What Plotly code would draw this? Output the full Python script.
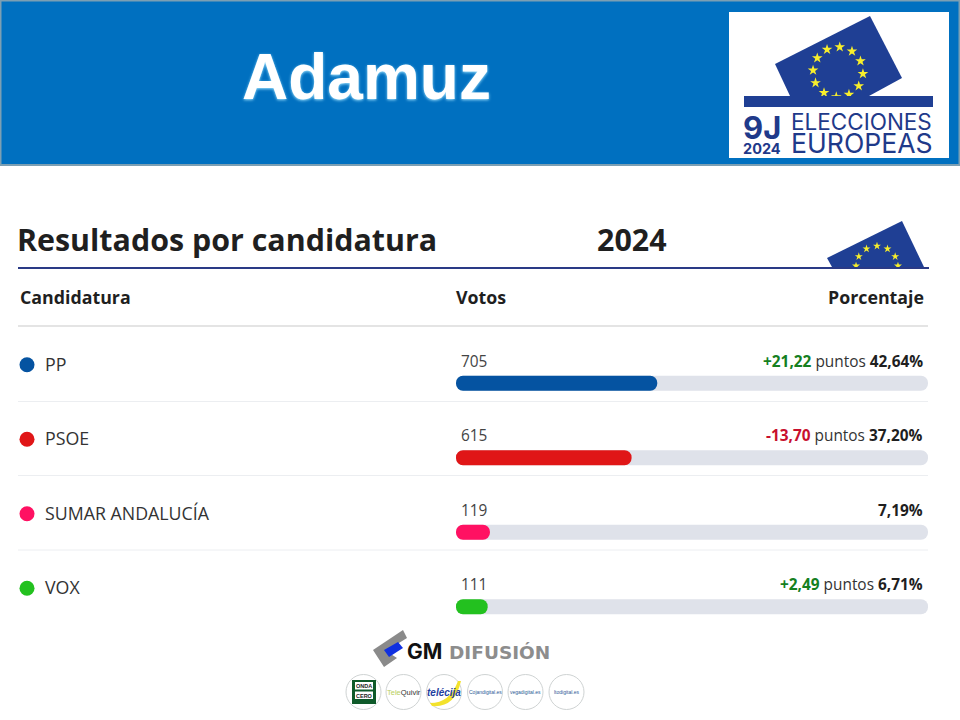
import math
import plotly.graph_objects as go

# results table
parties = ['PP', 'PSOE', 'SUMAR ANDALUCÍA', 'VOX']
votes = [705, 615, 119, 111]
percents = [42.64, 37.20, 7.19, 6.71]
changes = ['+21,22', '-13,70', None, '+2,49']
percent_labels = ['42,64%', '37,20%', '7,19%', '6,71%']
party_colors = ['#0553a1', '#e01617', '#ff1162', '#23c11f']
full_scale = [100, 100, 100, 100]
bar_base = [0, 0, 0, 0]

TRACK = '#dfe2ea'
DARK = '#1f1f1f'
NAVY = '#1f3a8a'
SANS = 'Open Sans'
W, H = 960, 720


def px(x):
    return x / W


def py(y):
    return 1 - y / H


def poly(points, color, layer='above'):
    # closed polygon in page pixels, on the x2/y3 page axes
    path = 'M ' + ' L '.join(f'{x},{y}' for x, y in points) + ' Z'
    return dict(type='path', path=path, xref='x2', yref='y3', fillcolor=color,
                line=dict(width=0), layer=layer)


def rect(x0, y0, x1, y1, color, line=None, layer='below'):
    return dict(type='rect', x0=x0, y0=y0, x1=x1, y1=y1, xref='x2', yref='y3',
                fillcolor=color, line=line or dict(width=0), layer=layer)


def hline(x0, x1, y, color, width, layer='below'):
    return dict(type='line', x0=x0, x1=x1, y0=y, y1=y, xref='x2', yref='y3',
                line=dict(color=color, width=width), layer=layer)


def label(x, y, text, size, color=DARK, anchor='left', family=SANS, **kw):
    return dict(x=px(x), y=py(y), xref='paper', yref='paper', text=text, showarrow=False,
                xanchor=anchor, yanchor='middle', borderpad=0, borderwidth=0, **kw,
                font=dict(family=family, size=size, color=color))


fig = go.Figure()

# grey tracks, then the share of each party on top
# an explicit base makes plotly round both ends of the bar
fig.add_trace(go.Bar(y=parties, x=full_scale, base=bar_base, orientation='h', width=0.2,
                     marker=dict(color=TRACK, line=dict(width=0)), hoverinfo='skip'))
fig.add_trace(go.Bar(y=parties, x=percents, base=bar_base, orientation='h', width=0.2,
                     marker=dict(color=party_colors, line=dict(width=0))))

# party dots sit a little above the bar line, so they get their own y axis
fig.add_trace(go.Scatter(x=[27] * len(parties), y=parties, mode='markers', xaxis='x2', yaxis='y2',
                         marker=dict(size=15, color=party_colors)))

# logo stars, big and small
stars_big = [(838 + 25 * math.cos(math.radians(a)), 72 - 25 * math.sin(math.radians(a)))
             for a in range(-4, 356, 30)]
stars_small = [(877 + 21 * math.cos(math.radians(a)), 267 - 21 * math.sin(math.radians(a)))
               for a in (3, 30, 60, 90, 120, 150, 177)]
for pts, size in ((stars_big, 8), (stars_small, 6)):
    fig.add_trace(go.Scatter(x=[p[0] for p in pts], y=[p[1] for p in pts], mode='markers',
                             xaxis='x2', yaxis='y3', hoverinfo='skip',
                             marker=dict(symbol='star', size=size, color='#f7ee2c', line=dict(width=0))))

shapes = [
    # header band and logo box
    rect(0.5, 0.5, 959.5, 165, '#0070c0', line=dict(color='#7c9fb3', width=2)),
    rect(729, 12, 949, 158, '#ffffff'),
    poly([(775, 64), (870, 16), (902, 78), (869, 96), (790, 96)], '#1f3f94', layer='below'),
    rect(744, 96, 933, 107, '#1f3f94', layer='above'),
    # table lines
    poly([(827, 258), (902, 221), (924, 267), (832, 267)], '#1f3f94', layer='below'),
    rect(850, 269, 905, 278, '#ffffff', layer='above'),
    hline(18, 929, 268, '#2a3a86', 2, layer='above'),
    hline(18, 928, 326, '#e4e4e4', 2),
    hline(18, 928, 401.5, '#eceef1', 1),
    hline(18, 928, 475.5, '#eceef1', 1),
    hline(18, 928, 550, '#eceef1', 1),
    # GM Difusion mark
    poly([(373, 650), (403, 630), (407, 638), (386, 651), (397, 658), (384, 667)], '#8a8a8a'),
    poly([(384, 650), (398, 642), (403, 648), (389, 657)], '#1030e0'),
]

# footer media badges
badge_x = [363.5, 403.5, 444, 485, 525.5, 566.5]
for x in badge_x:
    shapes.append(dict(type='circle', x0=x - 17.5, x1=x + 17.5, y0=674.5, y1=709.5, xref='x2', yref='y3',
                       fillcolor='#ffffff', line=dict(color='#cfd3d3', width=1), layer='below'))
shapes.append(rect(352, 680, 376, 704, '#0f5a2a', layer='below'))
shapes.append(rect(355, 682, 373, 689.5, '#ffffff', layer='below'))
shapes.append(rect(355, 691.5, 373, 699, '#ffffff', layer='below'))
shapes.append(dict(type='path', path='M 430,703 Q 450,703 458,681 L 461,681 Q 455,708 432,706 Z',
                   xref='x2', yref='y3', fillcolor='#f3e22c', line=dict(width=0), layer='below'))

annotations = [
    label(366.5, 77, '<b>Adamuz</b>', 64, '#ffffff', 'center', 'Liberation Sans'),
    label(16.5, 240, '<b>Resultados por candidatura</b>', 30.4),
    label(597, 240, '<b>2024</b>', 30.4),
    label(20, 297, '<b>Candidatura</b>', 17.8),
    label(456, 297, '<b>Votos</b>', 17.8),
    label(924, 297, '<b>Porcentaje</b>', 17.8, anchor='right'),
    # logo wording, one block per column so the lines keep their spacing
    label(743, 133, '<span style="font-size:31px"><b>9J</b></span><br><span style="font-size:14.5px"><b>2024</b></span>',
          11.5, NAVY, family='Inter', align='left'),
    label(791, 133, '<span style="font-size:22.5px">ELECCIONES</span><br><span style="font-size:26.6px">EUROPEAS</span>',
          18, NAVY, family='Inter', align='left'),
    # footer
    label(407, 651, '<b>GM</b>', 21, '#111111', family='Inter'),
    label(449, 652, '<b>DIFUSIÓN</b>', 18.5, '#8d8d8d', family='DejaVu Sans'),
    label(364, 686, '<b>ONDA</b>', 5.5, '#222222', 'center', 'Liberation Sans'),
    label(364, 695.5, '<b>CERO</b>', 5.5, '#222222', 'center', 'Liberation Sans'),
    label(403.5, 692, 'Tele<span style="color:#333">Quivir</span>', 7.5, '#b9cf5e', 'center', 'Liberation Sans'),
    label(444, 692, '<b><i>telécija</i></b>', 10, '#1f3fa0', 'center', 'Liberation Sans'),
    label(485, 692, 'Cojandigital.es', 5, '#2c5a96', 'center', 'Liberation Sans'),
    label(525.5, 692, 'vegadigital.es', 5, '#2c5a96', 'center', 'Liberation Sans'),
    label(566.5, 692, 'ltodigital.es', 5, '#2c5a96', 'center', 'Liberation Sans'),
]
annotations[0]['font']['shadow'] = '0 1px 3px #9fe3ff'

# row texts read from the data lists
for party, vote, pct, change in zip(parties, votes, percent_labels, changes):
    annotations.append(dict(x=px(45), xref='paper', y=party, yref='y2', text=party, showarrow=False,
                            xanchor='left', yshift=1, borderpad=0, borderwidth=0,
                            font=dict(family=SANS, size=17.8, color='#333333')))
    annotations.append(dict(x=0, xref='x', y=party, yref='y', text=str(vote), showarrow=False,
                            xanchor='left', xshift=5, yshift=22, borderpad=0, borderwidth=0,
                            font=dict(family=SANS, size=15.4, color='#444444')))
    text = f'<b>{pct}</b>'
    if change:
        col = '#15801f' if change.startswith('+') else '#c8102e'
        text = f'<b><span style="color:{col}">{change}</span></b> <span style="color:#333333">puntos</span> ' + text
    annotations.append(dict(x=100, xref='x', y=party, yref='y', text=text, showarrow=False,
                            xanchor='right', xshift=-5, yshift=22, borderpad=0, borderwidth=0,
                            font=dict(family=SANS, size=15.4, color=DARK)))

fig.update_layout(
    width=W,
    height=H,
    margin=dict(l=0, r=0, t=0, b=0),
    paper_bgcolor='#ffffff',
    plot_bgcolor='rgba(0,0,0,0)',
    showlegend=False,
    barmode='overlay',
    barcornerradius=8,
    shapes=shapes,
    annotations=annotations,
    xaxis=dict(domain=[px(456), px(928)], range=[0, 100], visible=False, fixedrange=True),
    # four rows, 74.5 px apart, bars centred at y=383
    yaxis=dict(domain=[py(644), py(346)], categoryorder='array', categoryarray=parties,
               range=[3.5, -0.5], visible=False, fixedrange=True),
    yaxis2=dict(domain=[py(625.5), py(327.5)], categoryorder='array', categoryarray=parties,
                range=[3.5, -0.5], visible=False, fixedrange=True, anchor='x2'),
    # page axes in pixels for the header and footer artwork
    xaxis2=dict(domain=[0, 1], range=[0, W], visible=False, fixedrange=True, anchor='y3'),
    yaxis3=dict(domain=[0, 1], range=[H, 0], visible=False, fixedrange=True, anchor='x2'),
)

fig.write_html('out.html', config=dict(displayModeBar=False), post_script="document.body.style.margin='0';")
